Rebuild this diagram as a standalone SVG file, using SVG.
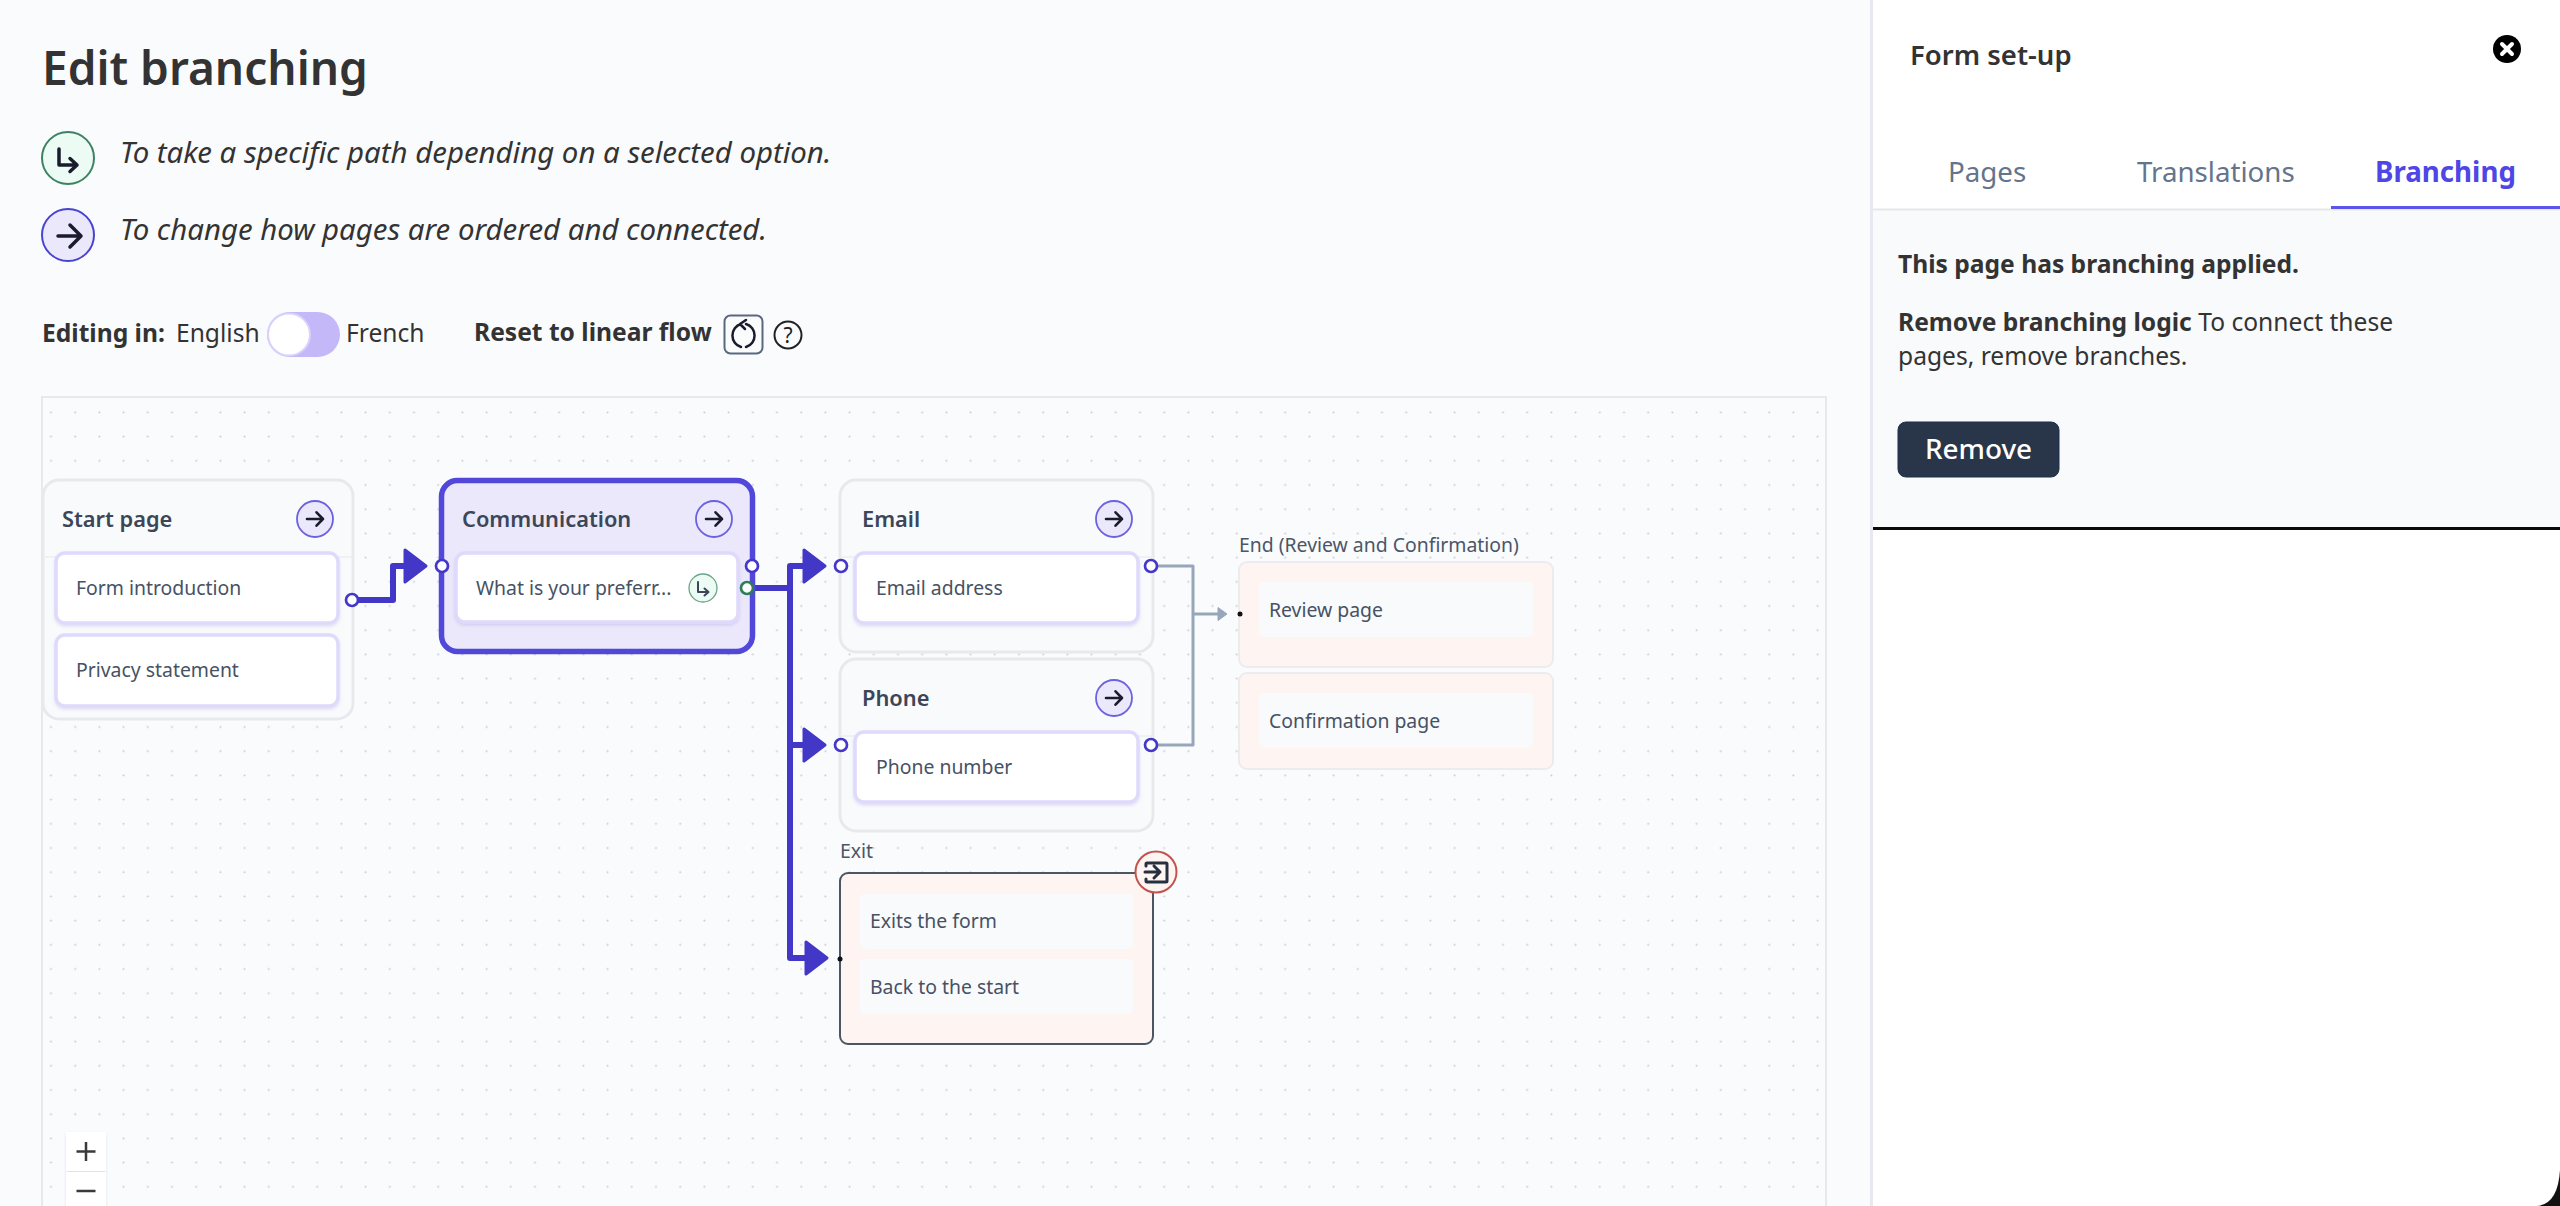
<svg xmlns="http://www.w3.org/2000/svg" width="2560" height="1206" viewBox="0 0 2560 1206">
<style>
text{font-family:"Noto Sans","Open Sans","Liberation Sans",sans-serif}
.h1{font-size:46px;font-weight:600;fill:#333}
.legend{font-size:29.4px;font-style:italic;fill:#333}
.ui{font-size:24.6px;fill:#333}
.uib{font-size:24.6px;font-weight:700;fill:#333}
.ntitle{font-size:21.8px;font-weight:600;fill:#3b4658}
.item{font-size:19.4px;fill:#475264}
.lab{font-size:19.4px;fill:#4b5668}
.group{fill:#f9fafc;stroke:#e8e9ec;stroke-width:3}
.active{fill:#ebe8fb;stroke:#5148d9;stroke-width:5.5}
.box{fill:#fff;stroke:#dfd9fb;stroke-width:3.5;filter:url(#sh)}
.endbox{fill:#fef4f2;stroke:#ececef;stroke-width:2}
.exitbox{fill:#fef4f2;stroke:#4b5563;stroke-width:2}
.inner{fill:#f9fafc}
.pur{fill:#ebe8fb;stroke:#6a62e0;stroke-width:1.8}
.grn{fill:#ecfbf3;stroke:#3d8263;stroke-width:2}
.ico{fill:none;stroke:#1b1b2e;stroke-width:3;stroke-linecap:round;stroke-linejoin:round}
.ico2{fill:none;stroke:#1b1b2e;stroke-width:2;stroke-linecap:round;stroke-linejoin:round}
.hd{fill:#fff;stroke:#4338ca;stroke-width:2.7}
.hg{fill:#fff;stroke:#2f7d57;stroke-width:2.7}
.flow{fill:none;stroke:#4237c6;stroke-width:6;stroke-linejoin:round}
.flow2{fill:none;stroke:#98a6bc;stroke-width:3;stroke-linejoin:round}
.tab{font-size:27.7px;fill:#64748b}
</style>
<defs>
<pattern id="dots" patternUnits="userSpaceOnUse" x="38.9" y="448.7" width="24.2" height="24.2"><circle cx="12.1" cy="12.1" r="1" fill="#c8cad0"/></pattern>
<filter id="sh" x="-5%" y="-10%" width="110%" height="125%"><feDropShadow dx="0" dy="2" stdDeviation="1.5" flood-color="#6d5fd0" flood-opacity="0.18"/></filter>
<marker id="ah" markerUnits="userSpaceOnUse" markerWidth="28" markerHeight="38" viewBox="0 0 28 38" refX="2" refY="19" orient="auto"><path d="M3 3L24 19L3 35Z" fill="#4237c6" stroke="#4237c6" stroke-width="3" stroke-linejoin="round"/></marker>
<marker id="ag" markerUnits="userSpaceOnUse" markerWidth="12" markerHeight="16" viewBox="0 0 12 16" refX="1" refY="8" orient="auto"><path d="M1 1.5L10 8L1 14.5Z" fill="#98a6bc" stroke="#98a6bc" stroke-linejoin="round"/></marker>
<g id="arrow"><circle r="18" class="pur"/><path class="ico2" style="stroke-width:2.600" d="M-8 0H8M1.500 -6.700L8 0L1.500 6.700"/></g>
</defs>
<rect width="2560" height="1206" fill="#fafbfd"/>

<g id="heading">
<text x="42" y="85" class="h1">Edit branching</text>
<circle cx="68" cy="158" r="26" class="grn"/>
<path class="ico" style="stroke-width:3.500" d="M59 149V165H76M70 158.500L77 165L70 171.500"/>
<text x="120" y="163" class="legend">To take a specific path depending on a selected option.</text>
<circle cx="68" cy="235" r="26" fill="#ebe8fb" stroke="#4a42d0" stroke-width="2"/>
<path class="ico" style="stroke-width:3.500" d="M58 236H80M70 225L81 236L70 247"/>
<text x="120" y="240" class="legend">To change how pages are ordered and connected.</text>
</g>

<g id="toolbar">
<text x="42" y="342" class="uib">Editing in:</text>
<text x="176" y="342" class="ui">English</text>
<rect x="267" y="312" width="73" height="45" rx="22.500" fill="#c4b8f8"/>
<circle cx="289" cy="334.500" r="21" fill="#fff" stroke="#d9d2fb" stroke-width="2"/>
<text x="346" y="342" class="ui">French</text>
<text x="474" y="341" class="uib">Reset to linear flow</text>
<rect x="724.500" y="315.500" width="38" height="38" rx="6" fill="#fafbfd" stroke="#5a6880" stroke-width="2"/>
<path class="ico2" style="stroke-width:2.500" d="M741 324A12 12 0 0 0 741 347M746 347A12 12 0 0 0 746 324M746 320L740 324L745 329"/>
<circle cx="788" cy="335" r="13.500" fill="none" stroke="#222" stroke-width="2"/>
<text x="788" y="343" text-anchor="middle" font-size="21" fill="#222">?</text>
</g>

<g id="canvas">
<rect x="42" y="397" width="1784" height="820" fill="#fafbfd" stroke="#e8e9ec" stroke-width="2"/>
<rect x="43" y="398" width="1782" height="820" fill="url(#dots)"/>
</g>

<g id="connectors">
<path class="flow" d="M352 600H393V566H404" marker-end="url(#ah)"/>
<path class="flow" d="M747 588H790V566H803" marker-end="url(#ah)"/>
<path class="flow" d="M790 588V745H803" marker-end="url(#ah)"/>
<path class="flow" d="M790 745V958H805" marker-end="url(#ah)"/>
<path class="flow2" d="M1151 566H1193V745H1151"/>
<path class="flow2" d="M1193 614H1218" marker-end="url(#ag)"/>
</g>

<g id="node-start">
<rect x="43" y="480" width="310" height="239" rx="16" class="group"/>
<path d="M43 557H353" stroke="#eceef1" stroke-width="1.500"/>
<text x="62" y="527" class="ntitle">Start page</text>
<use href="#arrow" x="315" y="519"/>
<rect x="56" y="553" width="282" height="70" rx="9" class="box"/>
<text x="76" y="595" class="item">Form introduction</text>
<rect x="56" y="635" width="282" height="71" rx="9" class="box"/>
<text x="76" y="677" class="item">Privacy statement</text>
<circle cx="352" cy="600" r="6" class="hd"/>
</g>

<g id="node-communication">
<rect x="441.500" y="480.500" width="311" height="171" rx="16" class="active"/>
<text x="462" y="527" class="ntitle">Communication</text>
<use href="#arrow" x="714" y="519"/>
<rect x="456" y="553" width="282" height="69" rx="9" class="box"/>
<text x="476" y="595" class="item">What is your preferr...</text>
<circle cx="703" cy="588" r="14" class="grn" style="stroke-width:1.300;stroke:#6aa58a"/>
<path class="ico2" style="stroke:#3b4658" d="M698 582V592H708M704.500 588.500L708.500 592L704.500 595.500"/>
<circle cx="442" cy="566" r="6" class="hd"/>
<circle cx="752" cy="566" r="6" class="hd"/>
<circle cx="747" cy="588" r="6" class="hg"/>
</g>

<g id="node-email">
<rect x="840" y="480" width="313" height="172" rx="16" class="group"/>
<path d="M840 557H1153" stroke="#eceef1" stroke-width="1.500"/>
<text x="862" y="527" class="ntitle">Email</text>
<use href="#arrow" x="1114" y="519"/>
<rect x="855" y="553" width="283" height="70" rx="9" class="box"/>
<text x="876" y="595" class="item">Email address</text>
<circle cx="841" cy="566" r="6" class="hd"/>
<circle cx="1151" cy="566" r="6" class="hd"/>
</g>

<g id="node-phone">
<rect x="840" y="659" width="313" height="172" rx="16" class="group"/>
<path d="M840 736H1153" stroke="#eceef1" stroke-width="1.500"/>
<text x="862" y="706" class="ntitle">Phone</text>
<use href="#arrow" x="1114" y="698"/>
<rect x="855" y="732" width="283" height="70" rx="9" class="box"/>
<text x="876" y="774" class="item">Phone number</text>
<circle cx="841" cy="745" r="6" class="hd"/>
<circle cx="1151" cy="745" r="6" class="hd"/>
</g>

<g id="node-end">
<text x="1239" y="552" class="lab">End (Review and Confirmation)</text>
<rect x="1239" y="562" width="314" height="105" rx="8" class="endbox"/>
<rect x="1259" y="582" width="274" height="55" rx="5" class="inner"/>
<text x="1269" y="617" class="item">Review page</text>
<rect x="1239" y="673" width="314" height="96" rx="8" class="endbox"/>
<rect x="1259" y="693" width="274" height="55" rx="5" class="inner"/>
<text x="1269" y="728" class="item">Confirmation page</text>
<circle cx="1240" cy="614" r="2.500" fill="#111"/>
</g>

<g id="node-exit">
<text x="840" y="858" class="lab">Exit</text>
<rect x="840" y="873" width="313" height="171" rx="8" class="exitbox"/>
<rect x="860" y="894" width="273" height="55" rx="5" class="inner"/>
<text x="870" y="928" class="item">Exits the form</text>
<rect x="860" y="959" width="273" height="55" rx="5" class="inner"/>
<text x="870" y="994" class="item">Back to the start</text>
<circle cx="840" cy="959" r="2.500" fill="#111"/>
<circle cx="1156" cy="872" r="20.500" fill="#fef4f2" stroke="#c2544f" stroke-width="2"/>
<path fill="none" stroke="#27303f" stroke-width="3" stroke-linecap="round" stroke-linejoin="round" d="M1146 866V864Q1146 863 1147 863H1166Q1167 863 1167 864V881Q1167 882 1166 882H1147Q1146 882 1146 881V879M1145 872H1160M1154 866L1160 872L1154 878"/>
</g>

<g id="zoom-controls">
<rect x="66" y="1132" width="40" height="39" fill="#fff" filter="url(#sh)"/>
<rect x="66" y="1172" width="40" height="40" fill="#fff" filter="url(#sh)"/>
<path d="M86 1142V1161M76.500 1151.500H95.500M76.500 1191H95.500" stroke="#3a3a3a" stroke-width="2.500"/>
</g>

<g id="panel">
<rect x="1870" y="0" width="690" height="1206" fill="#fff"/>
<rect x="1870" y="0" width="3" height="1206" fill="#e6eaf0"/>
<rect x="1873" y="210" width="687" height="317" fill="#f9fafc"/>
<rect x="1873" y="208.500" width="687" height="2" fill="#e5e7eb"/>
<rect x="1873" y="527" width="687" height="3" fill="#0a0a0a"/>
<text x="1910" y="65" font-size="27.500" font-weight="600" fill="#333">Form set-up</text>
<circle cx="2507" cy="49" r="14" fill="#000"/>
<path d="M2502 44L2512 54M2512 44L2502 54" stroke="#fff" stroke-width="4" stroke-linecap="round"/>
<text x="1948" y="182" class="tab">Pages</text>
<text x="2137" y="182" class="tab">Translations</text>
<text x="2375" y="182" class="tab" style="font-weight:700;fill:#4f46e5">Branching</text>
<rect x="2331" y="206" width="229" height="3" fill="#5b55e8"/>
<text x="1898" y="273" class="uib">This page has branching applied.</text>
<text x="1898" y="331" class="ui"><tspan class="uib">Remove branching logic</tspan> To connect these</text>
<text x="1898" y="365" class="ui">pages, remove branches.</text>
<rect x="1898" y="422" width="161" height="55" rx="8" fill="#293548" stroke="#1f3050" stroke-width="1"/>
<text x="1978.500" y="459" text-anchor="middle" font-size="27.900" font-weight="500" fill="#fff">Remove</text>
<path d="M2560 1170Q2558 1204 2537 1206H2560Z" fill="#111"/>
</g>
</svg>
